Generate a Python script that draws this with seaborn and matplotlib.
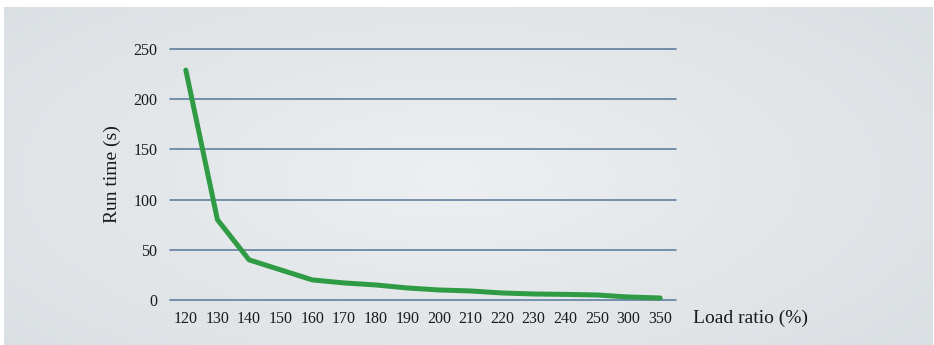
import numpy as np
import pandas as pd
import matplotlib
matplotlib.use("Agg")
import matplotlib.pyplot as plt
import seaborn as sns

# Load ratio categories (%) and measured run times (s)
load_ratio = ["120", "130", "140", "150", "160", "170", "180", "190",
              "200", "210", "220", "230", "240", "250", "300", "350"]
run_time = [229, 80, 40, 30, 20, 17, 15, 12, 10, 9, 7, 6, 5.6, 5, 3, 2]
y_ticks = [0, 50, 100, 150, 200, 250]

df = pd.DataFrame({"load": load_ratio, "time": run_time})

sns.set_theme(style="white")
plt.rcParams["font.family"] = ["Liberation Serif", "DejaVu Serif"]

W, H = 934, 345
fig = plt.figure(figsize=(W / 100, H / 100), dpi=100)
fig.patch.set_facecolor("white")

# Soft radial gradient panel behind the chart
bg = fig.add_axes([4 / W, 0, (W - 5) / W, (H - 7) / H], zorder=0)
yy, xx = np.mgrid[0:1:300j, 0:1:800j]
r = np.sqrt(((xx - 0.48) / 0.75) ** 2 + ((yy - 0.5) / 0.9) ** 2)
r = np.clip(r, 0, 1)
c0 = np.array([0xed, 0xef, 0xf1]) / 255
c1 = np.array([0xd8, 0xdd, 0xe1]) / 255
img = c0[None, None, :] * (1 - r[..., None]) + c1[None, None, :] * r[..., None]
bg.imshow(img, aspect="auto", extent=[0, 1, 0, 1], interpolation="bilinear")
bg.set_axis_off()

ax = fig.add_axes([170 / W, 45 / H, 506 / W, 251 / H], zorder=1)
ax.patch.set_alpha(0)

sns.lineplot(data=df, x="load", y="time", ax=ax, color="#2f9b45",
             linewidth=3.6, sort=False, clip_on=False, zorder=3)

ax.set_xlim(-0.5, len(load_ratio) - 0.5)
ax.set_ylim(0, 250)
ax.set_yticks(y_ticks)
ax.yaxis.grid(True, color="#55779a", linewidth=1.1)
for gl in ax.get_ygridlines():
    gl.set_clip_on(False)
ax.xaxis.grid(False)
for s in ax.spines.values():
    s.set_visible(False)
ax.tick_params(axis="both", length=0, labelsize=11.5, colors="#1a1a1a")
ax.tick_params(axis="x", pad=8)
ax.tick_params(axis="y", pad=9)

ax.set_xlabel("")
ax.set_ylabel("Run time (s)", fontsize=14, color="#1a1a1a", labelpad=9)
fig.text(693 / W, 1 - 318 / H, "Load ratio (%)", fontsize=14,
         color="#1a1a1a", ha="left", va="center")

fig.savefig("out.png", dpi=100, facecolor="white")
